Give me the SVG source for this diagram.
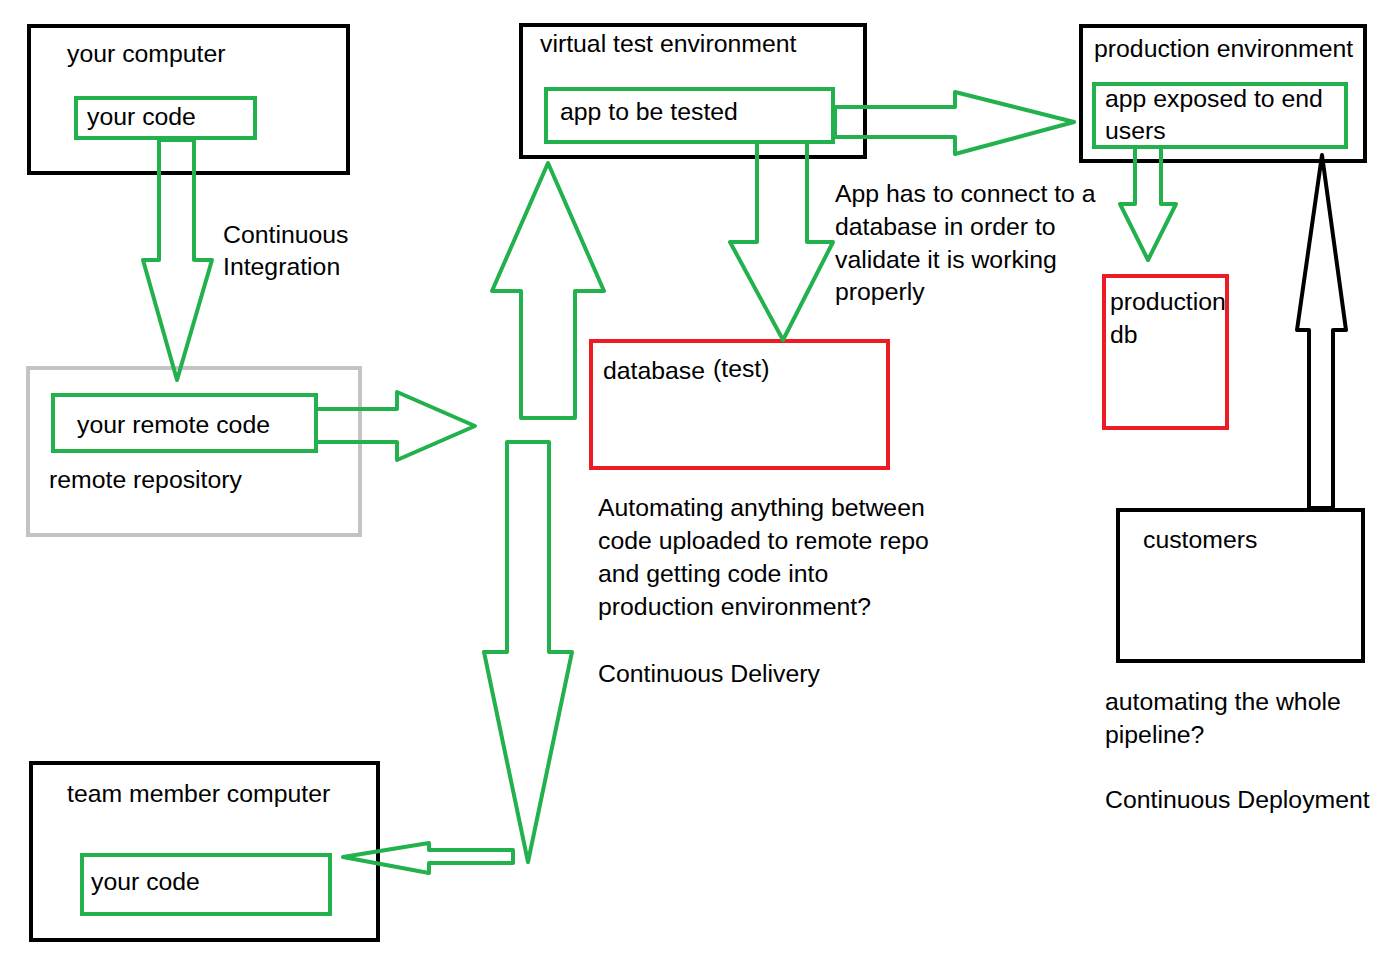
<svg xmlns="http://www.w3.org/2000/svg" width="1382" height="970" viewBox="0 0 1382 970">
<style>
  text { font-family: "Liberation Sans", Arial, sans-serif; font-size: 24.8px; fill: #000; }
  .blk { fill: none; stroke: #000; stroke-width: 4; }
  .grn { fill: none; stroke: #22B14C; stroke-width: 4; }
  .red { fill: none; stroke: #ED1C24; stroke-width: 4; }
  .gry { fill: none; stroke: #C3C3C3; stroke-width: 4; }
  .arr { fill: none; stroke: #22B14C; stroke-width: 4; stroke-linejoin: round; }
  .arrb { fill: none; stroke: #000; stroke-width: 4; stroke-linejoin: round; }
</style>
<rect width="1382" height="970" fill="#fff"/>

<g id="your-computer">
  <rect class="blk" x="29" y="26" width="319" height="147"/>
  <text x="67" y="62">your computer</text>
</g>
<g id="your-code">
  <rect class="grn" x="76" y="98" width="179" height="40"/>
  <text x="87" y="125">your code</text>
</g>
<g id="ci-label">
  <text x="223" y="243">Continuous</text>
  <text x="223" y="275">Integration</text>
</g>
<g id="remote-repository">
  <rect class="gry" x="28" y="368" width="332" height="167"/>
  <text x="49" y="488">remote repository</text>
</g>
<g id="your-remote-code">
  <rect class="grn" x="53" y="395" width="263" height="56"/>
  <text x="77" y="433">your remote code</text>
</g>
<g id="team-member-computer">
  <rect class="blk" x="31" y="763" width="347" height="177"/>
  <text x="67" y="802">team member computer</text>
</g>
<g id="team-code">
  <rect class="grn" x="82" y="855" width="248" height="59"/>
  <text x="91" y="890">your code</text>
</g>
<g id="virtual-test-environment">
  <rect class="blk" x="521" y="25" width="344" height="132"/>
  <text x="540" y="52">virtual test environment</text>
</g>
<g id="app-to-be-tested">
  <rect class="grn" x="546" y="89" width="287" height="53"/>
  <text x="560" y="120">app to be tested</text>
</g>
<g id="database-test">
  <rect class="red" x="591" y="341" width="297" height="127"/>
  <text x="603" y="379">database</text>
  <text x="713" y="377">(test)</text>
</g>
<g id="db-note">
  <text x="835" y="202">App has to connect to a</text>
  <text x="835" y="235">database in order to</text>
  <text x="835" y="268">validate it is working</text>
  <text x="835" y="300">properly</text>
</g>
<g id="cd-note">
  <text x="598" y="516">Automating anything between</text>
  <text x="598" y="549">code uploaded to remote repo</text>
  <text x="598" y="582">and getting code into</text>
  <text x="598" y="615">production environment?</text>
  <text x="598" y="682">Continuous Delivery</text>
</g>
<g id="production-environment">
  <rect class="blk" x="1081" y="26" width="284" height="135"/>
  <text x="1094" y="57">production environment</text>
</g>
<g id="app-exposed">
  <rect class="grn" x="1094" y="84" width="252" height="63"/>
  <text x="1105" y="107">app exposed to end</text>
  <text x="1105" y="139">users</text>
</g>
<g id="production-db">
  <rect class="red" x="1104" y="276" width="123" height="152"/>
  <text x="1110" y="310">production</text>
  <text x="1110" y="343">db</text>
</g>
<g id="customers">
  <rect class="blk" x="1118" y="510" width="245" height="151"/>
  <text x="1143" y="548">customers</text>
</g>
<g id="deploy-note">
  <text x="1105" y="710">automating the whole</text>
  <text x="1105" y="743">pipeline?</text>
  <text x="1105" y="808">Continuous Deployment</text>
</g>

<g id="connectors">
  <polygon class="arr" points="159,140 194,140 194,260 212,260 177,380 143,260 159,260"/>
  <polygon class="arr" points="316,409 397,409 397,392 475,426 397,460 397,442 316,442"/>
  <polygon class="arr" points="548,163 604,291 575,291 575,418 521,418 521,291 492,291"/>
  <polygon class="arr" points="507,442 549,442 549,652 572,652 528,862 484,652 507,652"/>
  <polygon class="arr" points="343,857 429,843 429,850 513,850 513,863 429,863 429,873"/>
  <polygon class="arr" points="757,142 807,142 807,242 833,242 783,340 730,242 757,242"/>
  <polygon class="arr" points="835,107 955,107 955,92 1074,122 955,154 955,137 835,137"/>
  <polygon class="arr" points="1135,147 1161,147 1161,204 1176,204 1148,260 1120,204 1135,204"/>
  <polygon class="arrb" points="1322,155 1346,330 1333,330 1333,508 1309,508 1309,330 1297,330"/>
</g>
</svg>
